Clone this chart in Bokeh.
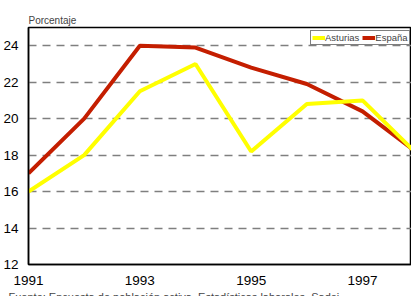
from bokeh.plotting import figure
from bokeh.models import Range1d, FixedTicker, Legend, LegendItem, Title
from bokeh.embed import file_html
from bokeh.resources import INLINE

# Data
years = [1991, 1992, 1993, 1994, 1995, 1996, 1997, 1998]
asturias = [16.0, 18.0, 21.5, 23.0, 18.2, 20.8, 21.0, 18.0]
espana = [17.0, 20.0, 24.0, 23.9, 22.8, 21.9, 20.4, 18.1]
x_ticks = [1991, 1993, 1995, 1997]
y_ticks = [12, 14, 16, 18, 20, 22, 24]
series_names = ["Asturias", "España"]
y_label = "Porcentaje"
source_text = "Fuente: Encuesta de población activa, Estadísticas laborales, Sadei"

FONT = "Liberation Sans"
RED = "#C41E00"
YELLOW = "#FFFF00"

FW, FH = 383, 237

p = figure(frame_width=FW, frame_height=FH, output_backend="svg", toolbar_location=None,
           x_range=Range1d(1991, 1997.88), y_range=Range1d(12, 25),
           min_border_left=20, min_border_right=0, min_border_top=27,
           min_border_bottom=28)
p.background_fill_color = "white"
p.border_fill_color = "white"
p.outline_line_color = "black"
p.outline_line_width = 1.5

p.title.text = y_label
p.title.text_font = FONT
p.title.text_font_size = "10px"
p.title.text_font_style = "normal"
p.title.align = "left"
p.title.standoff = 4

r_es = p.line(years, espana, line_color=RED, line_width=4)
r_as = p.line(years, asturias, line_color=YELLOW, line_width=4)

for ax in (p.xaxis[0], p.yaxis[0]):
    ax.major_tick_line_color = None
    ax.minor_tick_line_color = None
    ax.axis_line_color = "black"
    ax.axis_line_width = 1.5
    ax.major_label_text_font = FONT
    ax.major_label_text_font_size = "13.5px"
    ax.major_label_text_color = "black"
p.xaxis[0].ticker = FixedTicker(ticks=x_ticks)
p.yaxis[0].ticker = FixedTicker(ticks=y_ticks)
p.xaxis[0].major_label_standoff = 5
p.yaxis[0].major_label_standoff = 4

p.xgrid.grid_line_color = None
p.ygrid.grid_line_color = "#7f7f7f"
p.ygrid.grid_line_width = 1.5
p.ygrid.grid_line_dash = "8 6"

legend = Legend(items=[LegendItem(label=series_names[0], renderers=[r_as]),
                       LegendItem(label=series_names[1], renderers=[r_es])],
                orientation="horizontal", location=(282, 219),
                border_line_color="black", border_line_width=1,
                background_fill_color="white", background_fill_alpha=1,
                padding=1, margin=0, spacing=3, label_standoff=0,
                glyph_width=13, glyph_height=5, label_height=11, label_width=10,
                label_text_font=FONT, label_text_font_size="9.5px")
p.add_layout(legend, "center")

src = Title(text=source_text, align="left", text_font=FONT,
            text_font_size="11px", text_font_style="normal",
            offset=-20, standoff=2)
p.add_layout(src, "below")

open("out.html", "w").write(file_html(p, INLINE))
